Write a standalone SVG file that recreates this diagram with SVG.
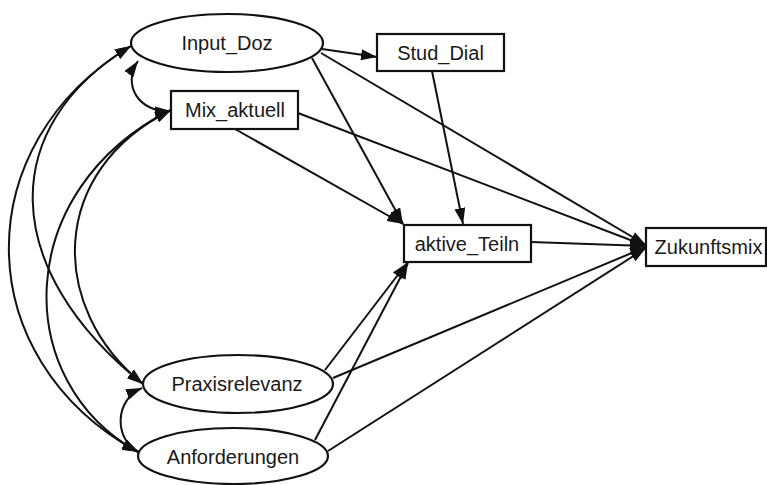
<svg xmlns="http://www.w3.org/2000/svg" width="767" height="485" viewBox="0 0 767 485">
  <defs>
    <marker id="arrow" viewBox="0 0 16 11" refX="16" refY="5.5" markerWidth="16" markerHeight="11" markerUnits="userSpaceOnUse" orient="auto-start-reverse">
      <path d="M0,0 L16,5.5 L0,11 Z" fill="#111"/>
    </marker>
  </defs>
  <style>
    .node { fill: #fff; stroke: #111; stroke-width: 2.2; }
    .label { font-family: "Liberation Sans", Arial, sans-serif; font-size: 20px; fill: #1a1a1a; text-anchor: middle; }
    .edge { fill: none; stroke: #111; stroke-width: 2; marker-end: url(#arrow); }
    .cov { fill: none; stroke: #111; stroke-width: 2; marker-start: url(#arrow); marker-end: url(#arrow); }
  </style>
  <rect width="767" height="485" fill="#fff"/>

  <g id="connectors">
    <!-- directed paths -->
    <line class="edge" x1="322" y1="49" x2="377" y2="57"/>
    <line class="edge" x1="312" y1="58" x2="403" y2="224"/>
    <line class="edge" x1="321" y1="53" x2="646" y2="245"/>
    <line class="edge" x1="235" y1="129" x2="403" y2="224"/>
    <line class="edge" x1="298" y1="113" x2="646" y2="246"/>
    <line class="edge" x1="432" y1="71" x2="463" y2="224"/>
    <line class="edge" x1="531" y1="242" x2="646" y2="246"/>
    <line class="edge" x1="325" y1="370" x2="407" y2="263"/>
    <line class="edge" x1="315" y1="440" x2="408" y2="263"/>
    <line class="edge" x1="333" y1="378" x2="646" y2="247"/>
    <line class="edge" x1="328" y1="451" x2="646" y2="248"/>
    <!-- covariances -->
    <path class="cov" d="M131,46 C-33,144 -33,358 138,452"/>
    <path class="cov" d="M131,46 C-2,126 -2,268 143,384"/>
    <path class="cov" d="M171,110 C11,190 11,382 138,452"/>
    <path class="cov" d="M171,110 C48,171 48,308 143,384"/>
    <path class="cov" d="M138,61 C122,84 138,113 171,111"/>
    <path class="cov" d="M142,388 C114,400 114,440 139,452"/>
  </g>

  <g id="Input_Doz">
    <ellipse class="node" cx="227" cy="43" rx="96" ry="29"/>
    <text class="label" x="227" y="50">Input_Doz</text>
  </g>
  <g id="Mix_aktuell">
    <rect class="node" x="171" y="91" width="127" height="38"/>
    <text class="label" x="235" y="117">Mix_aktuell</text>
  </g>
  <g id="Stud_Dial">
    <rect class="node" x="377" y="34" width="127" height="37"/>
    <text class="label" x="440.5" y="60">Stud_Dial</text>
  </g>
  <g id="aktive_Teiln">
    <rect class="node" x="404" y="225" width="127" height="37"/>
    <text class="label" x="467" y="251">aktive_Teiln</text>
  </g>
  <g id="Zukunftsmix">
    <rect class="node" x="646" y="228" width="120" height="38"/>
    <text class="label" x="708.5" y="254">Zukunftsmix</text>
  </g>
  <g id="Praxisrelevanz">
    <ellipse class="node" cx="238" cy="384" rx="95" ry="29"/>
    <text class="label" x="237" y="391">Praxisrelevanz</text>
  </g>
  <g id="Anforderungen">
    <ellipse class="node" cx="233" cy="456" rx="95" ry="28"/>
    <text class="label" x="233" y="464">Anforderungen</text>
  </g>
</svg>
